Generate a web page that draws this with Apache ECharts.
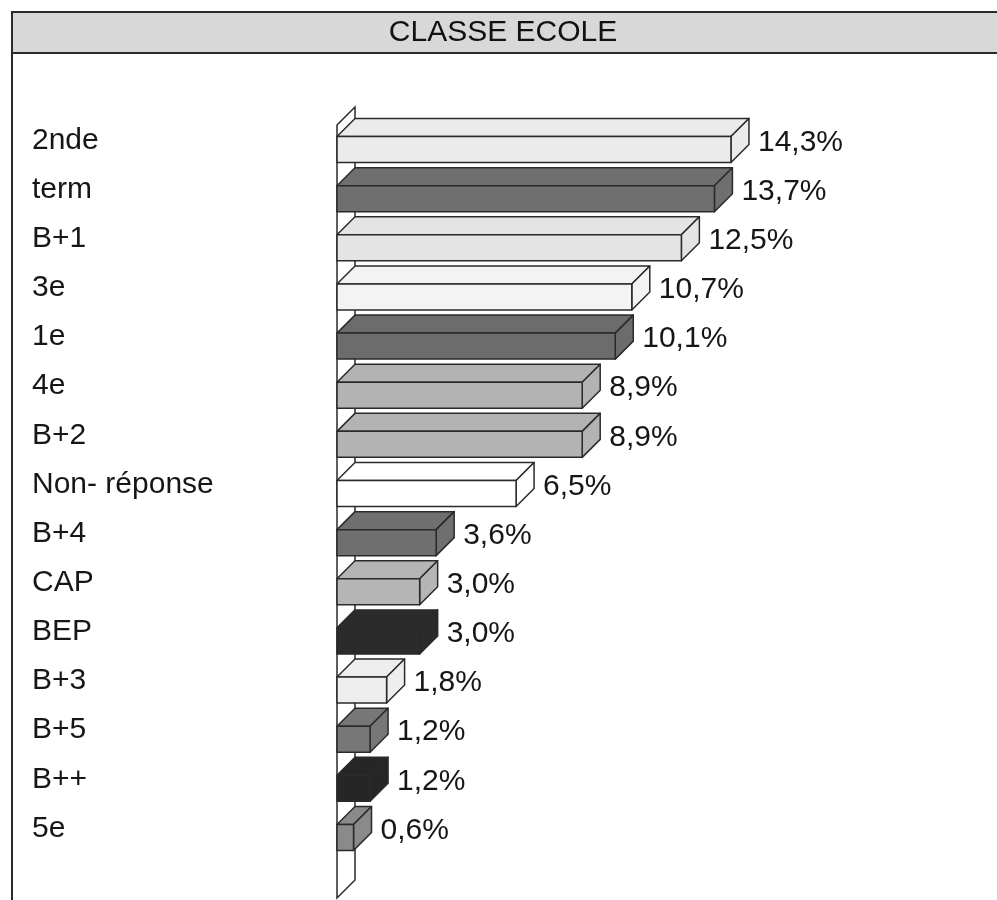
<!DOCTYPE html>
<html><head><meta charset="utf-8">
<script src="https://cdn.jsdelivr.net/npm/echarts@6/dist/echarts.min.js"></script>
<style>html,body{margin:0;padding:0;background:#fff}#c{width:997px;height:900px}</style>
</head>
<body><div id="c"></div>
<script>
// ---- data ----
const titleText = 'CLASSE ECOLE';
const categories = ['2nde','term','B+1','3e','1e','4e','B+2','Non- réponse','B+4','CAP','BEP','B+3','B+5','B++','5e'];
const values = [14.3, 13.7, 12.5, 10.7, 10.1, 8.9, 8.9, 6.5, 3.6, 3.0, 3.0, 1.8, 1.2, 1.2, 0.6];

// ---- styles ----
const barColors = ['#ebebeb','#6f6f6f','#e4e4e4','#f3f3f3','#6c6c6c','#b3b3b3','#b3b3b3','#ffffff',
                   '#6f6f6f','#b5b5b5','#2b2b2b','#eeeeee','#777777','#262626','#8a8a8a'];
const FONT = '"Liberation Sans", Arial, sans-serif';
const EDGE = '#2a2a2a';
const DX = 18, DY = 18;

const fmt = v => v.toFixed(1).replace('.', ',') + '%';

const chart = echarts.init(document.getElementById('c'), null, {renderer: 'canvas'});

function renderBar(params, api) {
  const v = api.value(0), idx = api.value(1);
  const p0 = api.coord([0, idx]);
  const p1 = api.coord([v, idx]);
  const x0 = p0[0], x1 = p1[0], c = p0[1];
  const yt = c - 4, yb = c + 22;
  const col = barColors[idx];
  const st = {fill: col, stroke: EDGE, lineWidth: 1.5, lineJoin: 'round'};
  return {
    type: 'group',
    children: [
      {type: 'polygon', shape: {points: [[x0, yt], [x0 + DX, yt - DY], [x1 + DX, yt - DY], [x1, yt]]}, style: st},
      {type: 'polygon', shape: {points: [[x1, yt], [x1 + DX, yt - DY], [x1 + DX, yb - DY], [x1, yb]]}, style: st},
      {type: 'rect', shape: {x: x0, y: yt, width: x1 - x0, height: yb - yt}, style: st},
      {type: 'text', x: x1 + DX + 9, y: c + 2,
       style: {text: fmt(v), fill: '#161616', font: '30px ' + FONT, align: 'left', verticalAlign: 'middle'}}
    ]
  };
}

function renderWall(params, api) {
  const cs = params.coordSys;
  const x0 = cs.x, top = cs.y, bot = cs.y + cs.height;
  return {
    type: 'polygon',
    shape: {points: [[x0, top + 9], [x0 + DX, top - 9], [x0 + DX, bot + 27], [x0, bot + 45]]},
    style: {fill: '#ffffff', stroke: EDGE, lineWidth: 1.5}
  };
}

chart.setOption({
  animation: false,
  backgroundColor: '#ffffff',
  grid: {left: 337, top: 116, width: 551, height: 737},
  xAxis: {type: 'value', min: 0, max: 20, show: false},
  yAxis: {
    type: 'category', data: categories, inverse: true,
    axisLine: {show: false}, axisTick: {show: false}, splitLine: {show: false},
    axisLabel: {align: 'left', margin: 305, fontSize: 30, fontFamily: FONT, color: '#161616', padding: [5, 0, 0, 0]}
  },
  graphic: [
    {type: 'rect', z: 100, shape: {x: 12, y: 12, width: 1000, height: 41},
     style: {fill: '#d8d8d8', stroke: EDGE, lineWidth: 2}},
    {type: 'line', z: 100, shape: {x1: 12, y1: 12, x2: 12, y2: 905},
     style: {stroke: EDGE, lineWidth: 2}},
    {type: 'text', z: 101, x: 503, y: 33,
     style: {text: titleText, font: '30px ' + FONT, fill: '#111111', align: 'center', verticalAlign: 'middle'}}
  ],
  series: [
    {type: 'custom', z: 1, clip: false, data: [[0, 0]], encode: {x: 0, y: 1}, renderItem: renderWall, silent: true},
    {type: 'custom', z: 2, clip: false, data: values.map((v, i) => [v, i]), encode: {x: 0, y: 1}, renderItem: renderBar}
  ]
});
</script>
</body></html>
